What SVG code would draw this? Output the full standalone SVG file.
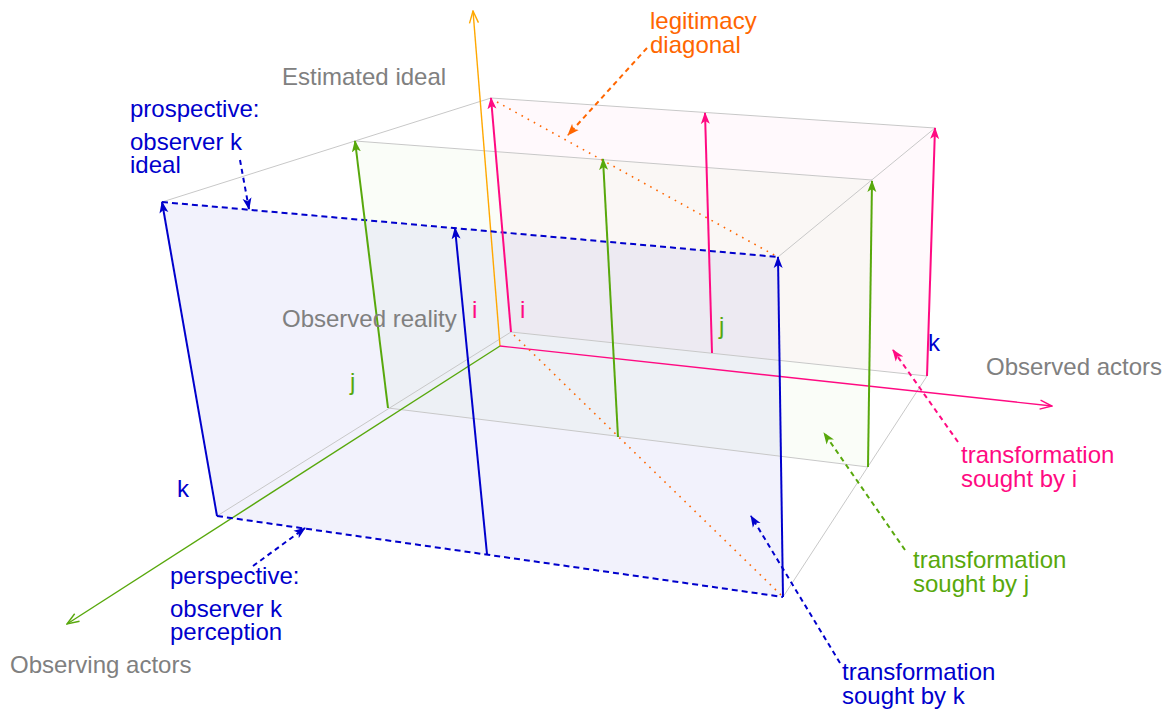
<svg xmlns="http://www.w3.org/2000/svg" width="1173" height="713" viewBox="0 0 1173 713">
<style>
text{font-family:"Liberation Sans",Arial,sans-serif;font-size:24px}
.gt{fill:#808080}.bt{fill:#0000cc}.gr{fill:#58a80c}.mt{fill:#ff0a82}.ot{fill:#ff6600}
.edge{stroke:#c8c8c8;stroke-width:1;fill:none}
.vb{stroke:#0000cc;stroke-width:2;fill:none;marker-end:url(#hb)}
.vg{stroke:#58a80c;stroke-width:2;fill:none;marker-end:url(#hg)}
.vm{stroke:#ff0a82;stroke-width:2;fill:none;marker-end:url(#hm)}
.cb{stroke:#0000cc;stroke-width:2;stroke-dasharray:5 4;fill:none;marker-end:url(#hb)}
.cg{stroke:#58a80c;stroke-width:2;stroke-dasharray:5 4;fill:none;marker-end:url(#hg)}
.cm{stroke:#ff0a82;stroke-width:2;stroke-dasharray:5 4;fill:none;marker-end:url(#hm)}
.co{stroke:#ff6600;stroke-width:2;stroke-dasharray:5 4;fill:none;marker-end:url(#ho)}
.dot{stroke:#ff6600;stroke-width:1.6;stroke-dasharray:1.6 5.4;fill:none}
.fdash{stroke:#0000cc;stroke-width:2;stroke-dasharray:6 4;fill:none}
</style>
<defs>
<marker id="hb" viewBox="0 -5 12 10" refX="11" refY="0" markerWidth="12" markerHeight="10" markerUnits="userSpaceOnUse" orient="auto"><path d="M0,-4.5 L12,0 L0,4.5 L3,0 z" fill="#0000cc"/></marker>
<marker id="hg" viewBox="0 -5 12 10" refX="11" refY="0" markerWidth="12" markerHeight="10" markerUnits="userSpaceOnUse" orient="auto"><path d="M0,-4.5 L12,0 L0,4.5 L3,0 z" fill="#58a80c"/></marker>
<marker id="hm" viewBox="0 -5 12 10" refX="11" refY="0" markerWidth="12" markerHeight="10" markerUnits="userSpaceOnUse" orient="auto"><path d="M0,-4.5 L12,0 L0,4.5 L3,0 z" fill="#ff0a82"/></marker>
<marker id="ho" viewBox="0 -5 12 10" refX="11" refY="0" markerWidth="12" markerHeight="10" markerUnits="userSpaceOnUse" orient="auto"><path d="M0,-4.5 L12,0 L0,4.5 L3,0 z" fill="#ff6600"/></marker>
<marker id="ay" viewBox="-1 -6 14 12" refX="12" refY="0" markerWidth="14" markerHeight="12" markerUnits="userSpaceOnUse" orient="auto"><path d="M0,-4.5 L12,0 L0,4.5" fill="none" stroke="#ffa800" stroke-width="1.4"/></marker>
<marker id="ag" viewBox="-1 -6 14 12" refX="12" refY="0" markerWidth="14" markerHeight="12" markerUnits="userSpaceOnUse" orient="auto"><path d="M0,-4.5 L12,0 L0,4.5" fill="none" stroke="#58a80c" stroke-width="1.4"/></marker>
<marker id="am" viewBox="-1 -6 14 12" refX="12" refY="0" markerWidth="14" markerHeight="12" markerUnits="userSpaceOnUse" orient="auto"><path d="M0,-4.5 L12,0 L0,4.5" fill="none" stroke="#ff0a82" stroke-width="1.4"/></marker>
</defs>
<rect width="1173" height="713" fill="#ffffff"/>

<g id="planes">
<polygon id="plane-i" points="491,98 935,128 927,376 511,332" fill="#ff0a82" fill-opacity="0.025"/>
<polygon id="plane-j" points="355,141 872,180 868,467 388,408" fill="#58a80c" fill-opacity="0.028"/>
<polygon id="plane-k" points="162,202 778,257 783,597 217,516" fill="#0000cc" fill-opacity="0.05"/>
</g>

<g id="box-edges">
<line class="edge" x1="162" y1="202" x2="491" y2="98"/>
<line class="edge" x1="217" y1="516" x2="511" y2="332"/>
<line class="edge" x1="778" y1="257" x2="935" y2="128"/>
<line class="edge" x1="783" y1="597" x2="927" y2="376"/>
<line class="edge" x1="491" y1="98" x2="935" y2="128"/>
<line class="edge" x1="511" y1="332" x2="927" y2="376"/>
<line class="edge" x1="355" y1="141" x2="872" y2="180"/>
<line class="edge" x1="388" y1="408" x2="868" y2="467"/>
</g>

<g id="connectors">
<line id="axis-ideal" x1="500" y1="346" x2="473" y2="11" stroke="#ffa800" stroke-width="1.4" marker-end="url(#ay)"/>
<line id="axis-observing" x1="500" y1="346" x2="67" y2="624" stroke="#58a80c" stroke-width="1.4" marker-end="url(#ag)"/>
<line id="axis-observed" x1="500" y1="346" x2="1052" y2="406" stroke="#ff0a82" stroke-width="1.4" marker-end="url(#am)"/>

<line class="dot" x1="497" y1="102" x2="776" y2="256"/>
<line class="dot" x1="514" y1="335" x2="781" y2="595"/>

<line class="fdash" x1="162" y1="202" x2="778" y2="257"/>
<line class="fdash" x1="217" y1="516" x2="783" y2="597"/>

<line class="vm" x1="511" y1="332" x2="491" y2="98"/>
<line class="vm" x1="712" y1="353" x2="705" y2="113"/>
<line class="vm" x1="927" y1="376" x2="935" y2="128"/>

<line class="vg" x1="388" y1="408" x2="355" y2="141"/>
<line class="vg" x1="618" y1="437" x2="603" y2="159"/>
<line class="vg" x1="868" y1="467" x2="872" y2="181"/>

<line class="vb" x1="217" y1="516" x2="162" y2="202"/>
<line class="vb" x1="487" y1="554" x2="455" y2="228"/>
<line class="vb" x1="783" y1="597" x2="778" y2="257"/>

<line class="co" x1="647" y1="48" x2="568" y2="135"/>
<line class="cb" x1="240" y1="160" x2="249" y2="209"/>
<line class="cb" x1="253" y1="566" x2="305" y2="528"/>
<line class="cb" x1="840" y1="663" x2="751" y2="516"/>
<line class="cg" x1="905" y1="550" x2="824" y2="433"/>
<line class="cm" x1="958" y1="442" x2="893" y2="350"/>
</g>

<g id="axis-labels">
<text class="gt" x="282" y="85">Estimated ideal</text>
<text class="gt" x="282" y="327">Observed reality</text>
<text class="gt" x="986" y="375">Observed actors</text>
<text class="gt" x="10" y="673">Observing actors</text>
</g>

<g id="actor-labels">
<text class="mt" x="472" y="318">i</text>
<text class="mt" x="520" y="318">i</text>
<text class="gr" x="350" y="390">j</text>
<text class="gr" x="719" y="334">j</text>
<text class="bt" x="177" y="497">k</text>
<text class="bt" x="928" y="351">k</text>
</g>

<g id="legitimacy">
<text class="ot" x="650" y="29">legitimacy<tspan x="650" dy="24">diagonal</tspan></text>
</g>

<g id="prospective">
<text class="bt" x="130" y="117">prospective:</text>
<text class="bt" x="130" y="150">observer k<tspan x="130" dy="23">ideal</tspan></text>
</g>

<g id="perspective">
<text class="bt" x="170" y="584">perspective:</text>
<text class="bt" x="170" y="617">observer k<tspan x="170" dy="23">perception</tspan></text>
</g>

<g id="transformation-i">
<text class="mt" x="961" y="463">transformation<tspan x="961" dy="24">sought by i</tspan></text>
</g>

<g id="transformation-j">
<text class="gr" x="913" y="568">transformation<tspan x="913" dy="24">sought by j</tspan></text>
</g>

<g id="transformation-k">
<text class="bt" x="842" y="680">transformation<tspan x="842" dy="24">sought by k</tspan></text>
</g>
</svg>
